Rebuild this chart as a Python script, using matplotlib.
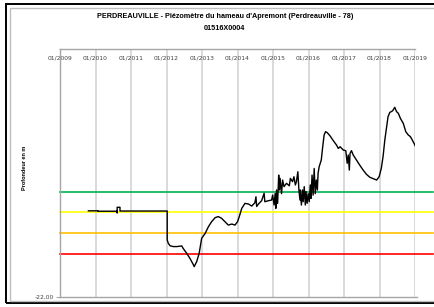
import matplotlib
matplotlib.use("Agg")
from matplotlib import pyplot as plt
from matplotlib.patches import Rectangle

# water level (depth, m)
years = [2009.80, 2010.07, 2010.07, 2010.60, 2010.61, 2010.61, 2010.69, 2010.69, 2012.02,
         2012.02, 2012.05, 2012.10, 2012.19, 2012.29, 2012.43, 2012.47, 2012.57, 2012.66,
         2012.76, 2012.78, 2012.85, 2012.92, 2012.99, 2013.09, 2013.18, 2013.27, 2013.37,
         2013.46, 2013.55, 2013.65, 2013.74, 2013.84, 2013.93, 2014.00, 2014.05, 2014.12,
         2014.21, 2014.31, 2014.40, 2014.49, 2014.52, 2014.54, 2014.59, 2014.68, 2014.75,
         2014.77, 2014.87, 2014.96, 2014.99, 2015.03, 2015.06, 2015.08, 2015.10, 2015.13,
         2015.16, 2015.18, 2015.20, 2015.24, 2015.27, 2015.31, 2015.38, 2015.46, 2015.49,
         2015.55, 2015.59, 2015.63, 2015.66, 2015.70, 2015.73, 2015.76, 2015.77, 2015.80,
         2015.83, 2015.85, 2015.88, 2015.91, 2015.93, 2015.96, 2015.99, 2016.02, 2016.05,
         2016.07, 2016.10, 2016.13, 2016.16, 2016.19, 2016.22, 2016.25, 2016.27, 2016.30,
         2016.33, 2016.36, 2016.40, 2016.44, 2016.48, 2016.53, 2016.61, 2016.70, 2016.79,
         2016.84, 2016.89, 2016.98, 2017.05, 2017.09, 2017.12, 2017.15, 2017.17, 2017.21,
         2017.26, 2017.35, 2017.44, 2017.54, 2017.63, 2017.73, 2017.82, 2017.92, 2017.99,
         2018.05, 2018.10, 2018.15, 2018.20, 2018.24, 2018.29, 2018.37, 2018.43, 2018.48,
         2018.53, 2018.59, 2018.67, 2018.74, 2018.81, 2018.87, 2018.95, 2019.02]
depth = [-17.83, -17.83, -17.85, -17.85, -17.94, -17.66, -17.66, -17.84, -17.84,
         -19.24, -19.40, -19.52, -19.56, -19.56, -19.53, -19.65, -19.89, -20.13,
         -20.45, -20.53, -20.29, -19.89, -19.16, -18.92, -18.60, -18.36, -18.16,
         -18.11, -18.19, -18.36, -18.52, -18.47, -18.52, -18.36, -18.11, -17.71,
         -17.47, -17.50, -17.60, -17.44, -17.15, -17.62, -17.50, -17.34, -16.98,
         -17.39, -17.34, -17.31, -17.07, -17.55, -17.00, -17.71, -16.82, -17.47,
         -16.10, -16.82, -16.26, -17.00, -16.34, -16.66, -16.50, -16.62, -16.26,
         -16.42, -16.18, -16.58, -16.42, -15.94, -16.82, -17.31, -16.82, -17.55,
         -16.82, -17.39, -16.66, -17.55, -16.90, -17.47, -17.00, -17.39, -16.58,
         -17.23, -16.10, -17.07, -15.78, -17.00, -16.34, -16.82, -16.02, -15.70,
         -15.53, -15.37, -14.73, -14.16, -14.00, -14.05, -14.21, -14.44, -14.65,
         -14.81, -14.73, -14.89, -14.92, -15.53, -15.13, -15.86, -15.05, -14.92,
         -15.13, -15.37, -15.61, -15.86, -16.06, -16.21, -16.27, -16.34, -16.18,
         -15.78, -15.21, -14.40, -13.76, -13.28, -13.07, -12.99, -12.82, -13.03,
         -13.11, -13.36, -13.60, -14.00, -14.16, -14.24, -14.49, -14.73]

# alert thresholds
thresholds = [-16.9, -17.9, -18.9, -19.9]
threshold_colors = ['#00b050', '#ffff00', '#ffc000', '#ff0000']

year_ticks = list(range(2009, 2020))
year_labels = [f'01/{y}' for y in year_ticks]

fig = plt.figure(figsize=(4.34, 3.07), dpi=100)
ax = fig.add_axes([60 / 434, 1 - 297 / 307, 355 / 434, 248 / 307])

# frames around the chart
fig.add_artist(Rectangle((6 / 434, 1 - 303 / 307), 1.2, 299 / 307, transform=fig.transFigure,
                         fill=False, edgecolor='black', lw=1.4))
fig.add_artist(Rectangle((10 / 434, 1 - 300.5 / 307), 1.2, 292.5 / 307, transform=fig.transFigure,
                         fill=False, edgecolor='#bfbfbf', lw=1.0))

for y in year_ticks[1:]:
    ax.axvline(y, color='#d9d9d9', lw=1.4, zorder=1)

for t, c in zip(thresholds, threshold_colors):
    ax.axhline(t, xmin=0, xmax=(433 - 60) / 355, color=c, lw=1.2, clip_on=False, zorder=2)

ax.plot(years, depth, color='black', lw=1.0, zorder=3)

ax.set_xlim(2009, 2019)
ax.set_ylim(-22, -10)
ax.set_xticks(year_ticks)
ax.set_xticklabels(year_labels)
ax.xaxis.tick_top()
ax.tick_params(axis='x', length=0, pad=-8.5, labelsize=4.3, labelcolor='#404040')
ax.set_yticks([-22])
ax.set_yticklabels(['-22,00'])
ax.tick_params(axis='y', length=3, width=0.8, color='#a6a6a6', labelsize=4.3,
               labelcolor='#404040', pad=1.5)

for s in ['right']:
    ax.spines[s].set_visible(False)
for s in ['top', 'left', 'bottom']:
    ax.spines[s].set_color('#a6a6a6')
    ax.spines[s].set_linewidth(1.0)
ax.spines['bottom'].set_bounds(2009, 2019.05)

fig.text(0.518, 1 - 17 / 307, "PERDREAUVILLE - Piézomètre du hameau d'Apremont (Perdreauville - 78)",
         ha='center', va='center', fontsize=5.2, fontweight='bold', family='Liberation Sans')
fig.text(0.518, 1 - 28 / 307, '01516X0004', ha='center', va='center', fontsize=5.2,
         fontweight='bold', family='Liberation Sans')
fig.text(25 / 434, 1 - 168 / 307, 'Profondeur en m', rotation=90, ha='center', va='center',
         fontsize=4.0, fontweight='bold', family='Liberation Sans')

plt.savefig('out.png', dpi=100)
